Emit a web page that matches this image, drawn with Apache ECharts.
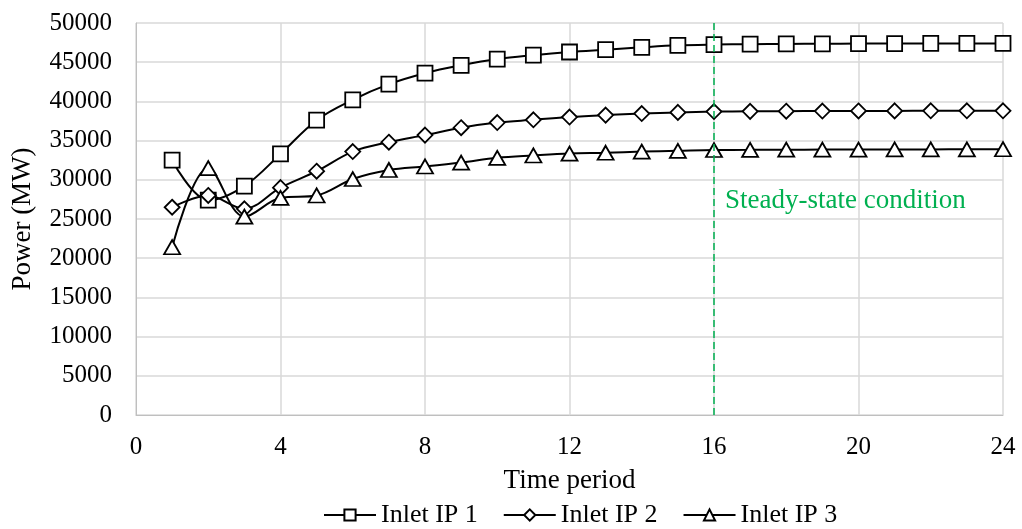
<!DOCTYPE html>
<html>
<head>
<meta charset="utf-8">
<script src="https://cdn.jsdelivr.net/npm/echarts@6/dist/echarts.min.js"></script>
<style>
  html, body { margin: 0; padding: 0; background: #fff; }
  #chart { width: 1022px; height: 529px; }
</style>
</head>
<body>
<div id="chart"></div>
<script>
// Time periods 1..24
const periods = [1,2,3,4,5,6,7,8,9,10,11,12,13,14,15,16,17,18,19,20,21,22,23,24];

// Power output (MW) per inlet
const inletIP1 = [32500,27400,29200,33300,37600,40200,42200,43600,44600,45400,45900,46300,46600,46900,47150,47250,47300,47330,47350,47370,47380,47390,47400,47400];
const inletIP2 = [26500,28000,26300,29000,31100,33600,34800,35700,36650,37300,37650,38000,38250,38450,38600,38700,38730,38750,38770,38780,38790,38800,38800,38800];
const inletIP3 = [21400,31500,25300,27700,28000,30100,31250,31700,32200,32800,33100,33350,33450,33600,33700,33800,33820,33840,33850,33860,33870,33880,33890,33900];

const seriesNames = ['Inlet IP 1', 'Inlet IP 2', 'Inlet IP 3'];
const steadyPeriod = 16;
const steadyLabel = 'Steady-state condition';
const steadyLabelLevel = 27300;

const font = '"Liberation Serif", "Times New Roman", serif';

function pairs(vals) { return periods.map((p, i) => [p, vals[i]]); }

function lineSeries(name, vals, symbol, size) {
  return {
    name: name,
    type: 'line',
    data: pairs(vals),
    smooth: 0.35,
    symbol: symbol,
    symbolSize: size,
    showAllSymbol: true,
    lineStyle: { color: '#000', width: 2 },
    itemStyle: { color: '#fff', borderColor: '#000', borderWidth: 1.8 },
    emphasis: { disabled: true },
    z: 3
  };
}

const triangle = 'path://M0,-10 L10,8 L-10,8 Z';

const chart = echarts.init(document.getElementById('chart'), null, { renderer: 'canvas' });

const s1 = lineSeries(seriesNames[0], inletIP1, 'rect', 15);
const s2 = lineSeries(seriesNames[1], inletIP2, 'diamond', 15);
const s3 = lineSeries(seriesNames[2], inletIP3, triangle, [16, 14]);

// vertical marker for the start of steady state, with its caption
s1.markLine = {
  silent: true,
  symbol: ['none', 'none'],
  label: { show: false },
  lineStyle: { color: '#00b050', type: [7, 4], width: 1.5 },
  data: [{ xAxis: steadyPeriod }]
};
s1.markPoint = {
  silent: true,
  symbol: 'circle',
  symbolSize: 0,
  label: {
    show: true,
    position: 'right',
    distance: 11,
    formatter: steadyLabel,
    color: '#00b050',
    fontFamily: font,
    fontSize: 27
  },
  data: [{ coord: [steadyPeriod, steadyLabelLevel] }]
};

chart.setOption({
  animation: false,
  backgroundColor: '#fff',
  textStyle: { fontFamily: font },
  grid: { left: 136, right: 19, top: 23, bottom: 114, containLabel: false },
  legend: {
    bottom: -4,
    left: 318,
    itemGap: 25,
    itemWidth: 52,
    itemHeight: 14,
    textStyle: { fontFamily: font, fontSize: 26, color: '#000' },
    data: seriesNames
  },
  xAxis: {
    type: 'value',
    min: 0,
    max: 24,
    interval: 4,
    name: 'Time period',
    nameLocation: 'middle',
    nameGap: 52,
    nameTextStyle: { fontFamily: font, fontSize: 27, color: '#000' },
    axisLine: { show: true, lineStyle: { color: '#bfbfbf', width: 1 } },
    axisTick: { show: false },
    axisLabel: { fontFamily: font, fontSize: 25, color: '#000', margin: 20 },
    splitLine: { show: true, lineStyle: { color: '#d9d9d9', width: 1.5 } }
  },
  yAxis: {
    type: 'value',
    min: 0,
    max: 50000,
    interval: 5000,
    name: 'Power (MW)',
    nameLocation: 'middle',
    nameGap: 100,
    nameRotate: 90,
    nameTextStyle: { fontFamily: font, fontSize: 27, color: '#000' },
    axisLine: { show: true, lineStyle: { color: '#bfbfbf', width: 1 } },
    axisTick: { show: false },
    axisLabel: { fontFamily: font, fontSize: 25, color: '#000', margin: 24, formatter: v => String(v) },
    splitLine: { show: true, lineStyle: { color: '#d9d9d9', width: 1.5 } }
  },
  series: [s1, s2, s3]
});
</script>
</body>
</html>
